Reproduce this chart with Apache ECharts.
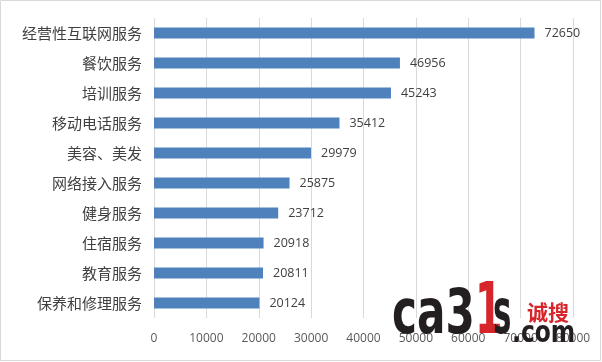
<!DOCTYPE html>
<html><head><meta charset="utf-8">
<script src="https://cdn.jsdelivr.net/npm/echarts@6/dist/echarts.min.js"></script>
<style>html,body{margin:0;padding:0;background:#fff}#c{width:602px;height:362px}</style>
</head><body><div id="c"></div>
<script>
const categories = ['经营性互联网服务','餐饮服务','培训服务','移动电话服务','美容、美发','网络接入服务','健身服务','住宿服务','教育服务','保养和修理服务'];
const values = [72650,46956,45243,35412,29979,25875,23712,20918,20811,20124];
const xTicks = [0,10000,20000,30000,40000,50000,60000,70000,80000];

const chart = echarts.init(document.getElementById('c'));
chart.setOption({
  backgroundColor:'#fff',
  animation:false,
  grid:{left:154,right:29,top:18,bottom:44,containLabel:false},
  xAxis:{type:'value',min:xTicks[0],max:xTicks[xTicks.length-1],interval:10000,
    axisLine:{show:false},axisTick:{show:false},
    splitLine:{lineStyle:{color:'#d9d9d9',width:1}},
    axisLabel:{color:'#595959',fontSize:12,fontFamily:'Open Sans',margin:15,formatter:v=>String(v)}},
  yAxis:{type:'category',data:categories,inverse:true,
    axisLine:{show:false},axisTick:{show:false},
    axisLabel:{color:'#404040',fontSize:15,fontFamily:'Noto Sans CJK SC',margin:12}},
  series:[{type:'bar',data:values,barWidth:11,
    itemStyle:{color:'#4f81bd'},
    label:{show:true,position:'right',distance:10,color:'#404040',fontSize:12.5,fontFamily:'Open Sans'}}],
  graphic:[
    {type:'rect',shape:{x:0.5,y:0.5,width:600,height:360},style:{fill:'none',stroke:'#d9d9d9',lineWidth:1},z:100},
    {type:'text',x:392,y:348,z:200,scaleX:0.68,style:{text:'ca3',font:'bold 62px "DejaVu Sans"',fill:'#231f20',textVerticalAlign:'bottom'}},
    {type:'text',x:475,y:350,z:200,scaleX:0.55,style:{text:'1',font:'bold 72px "DejaVu Sans"',fill:'#d7262b',textVerticalAlign:'bottom'}},
    {type:'text',x:493,y:348,z:200,scaleX:0.5,style:{text:'s',font:'bold 62px "DejaVu Sans"',fill:'#231f20',textVerticalAlign:'bottom'}},
    {type:'text',x:512,y:349,z:200,scaleX:0.78,style:{text:'.com',font:'bold 30px "DejaVu Sans"',fill:'#231f20',textVerticalAlign:'bottom'}},
    {type:'text',x:527,y:302,z:200,style:{text:'诚搜',font:'bold 21px "Noto Sans CJK SC"',fill:'#d7262b'}}
  ]
});
</script></body></html>
